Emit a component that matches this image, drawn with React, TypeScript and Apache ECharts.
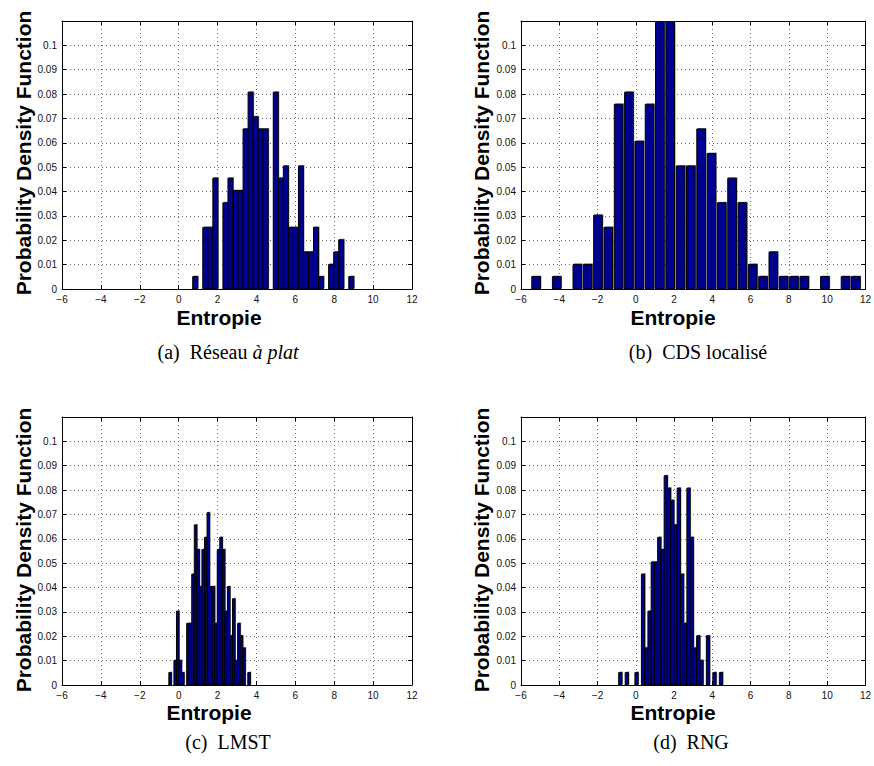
import React, { useEffect, useRef } from "react";
import * as echarts from "echarts";

// Histograms of the entropy, one per topology (32 bins each, relative frequency)
const flatBinStart = 0.852;
const flatBinWidth = 0.2589;
const flatPdf = [
  0.0051, 0, 0.0253, 0.0253, 0.0455, 0, 0.0354, 0.0455, 0.0404, 0.0404,
  0.0657, 0.0808, 0.0707, 0.0657, 0.0657, 0, 0.0808, 0.0455, 0.0505, 0.0253,
  0.0253, 0.0505, 0.0152, 0.0152, 0.0253, 0.0051, 0, 0.0101, 0.0152, 0.0202,
  0, 0.0051,
];

const cdsBinStart = -5.21;
const cdsBinWidth = 0.539;
const cdsPdf = [
  0.0051, 0, 0.0051, 0, 0.0101, 0.0101, 0.0303, 0.0253, 0.0758, 0.0808,
  0.0606, 0.0758, 0.1111, 0.1111, 0.0505, 0.0505, 0.0657, 0.0556, 0.0354, 0.0455,
  0.0354, 0.0101, 0.0051, 0.0152, 0.0051, 0.0051, 0.0051, 0, 0.0051, 0,
  0.0051, 0.0051,
];

const lmstBinStart = -0.44;
const lmstBinWidth = 0.131;
const lmstPdf = [
  0.0051, 0, 0.0101, 0.0303, 0.0101, 0.0051, 0, 0.0253, 0.0253, 0.0455,
  0.0657, 0.0556, 0.0404, 0.0556, 0.0606, 0.0707, 0.0404, 0.0404, 0.0253, 0.0556,
  0.0606, 0.0556, 0.0303, 0.0404, 0.0202, 0.0354, 0.0101, 0.0253, 0.0202, 0.0152,
  0, 0.0051,
];

const rngBinStart = -0.81;
const rngBinWidth = 0.1697;
const rngPdf = [
  0.0051, 0, 0.0051, 0, 0, 0.0051, 0, 0.0455, 0.0152, 0.0303,
  0.0505, 0.0505, 0.0606, 0.0556, 0.0859, 0.0808, 0.0758, 0.0657, 0.0808, 0.0455,
  0.0253, 0.0808, 0.0606, 0.0152, 0.0202, 0.0101, 0, 0.0202, 0, 0.0051,
  0, 0.0051,
];

const xTicks = { min: -6, max: 12, interval: 2 };
const yTicks = { min: 0, max: 0.11, interval: 0.01 };

const xLabel = "Entropie";
const yLabel = "Probability Density Function";
const captions = [
  "(a)  Réseau {it|à plat}",
  "(b)  CDS localisé",
  "(c)  LMST",
  "(d)  RNG",
];

const SANS = '"Liberation Sans", Arial, Helvetica, sans-serif';
const SERIF = '"Liberation Serif", "Times New Roman", Times, serif';
const BAR_FILL = "#00008F";

type Panel = {
  start: number;
  width: number;
  pdf: number[];
  barRatio: number;
  grid: { left: number; top: number; width: number; height: number };
  xNameX: number;
  xNameY: number;
  yNameX: number;
  yNameY: number;
  capX: number;
  capY: number;
};

const panels: Panel[] = [
  {
    start: flatBinStart, width: flatBinWidth, pdf: flatPdf, barRatio: 1,
    grid: { left: 62, top: 21, width: 350, height: 268 },
    xNameX: 219, xNameY: 317, yNameX: 23, yNameY: 153, capX: 228, capY: 352,
  },
  {
    start: cdsBinStart, width: cdsBinWidth, pdf: cdsPdf, barRatio: 0.84,
    grid: { left: 521, top: 21, width: 349, height: 268 },
    xNameX: 673, xNameY: 317, yNameX: 481, yNameY: 153, capX: 698, capY: 352,
  },
  {
    start: lmstBinStart, width: lmstBinWidth, pdf: lmstPdf, barRatio: 1,
    grid: { left: 62, top: 417, width: 350, height: 268 },
    xNameX: 209, xNameY: 712, yNameX: 23, yNameY: 550, capX: 228, capY: 742,
  },
  {
    start: rngBinStart, width: rngBinWidth, pdf: rngPdf, barRatio: 1,
    grid: { left: 521, top: 417, width: 349, height: 268 },
    xNameX: 673, xNameY: 712, yNameX: 481, yNameY: 550, capX: 691, capY: 742,
  },
];

const fmtX = (v: number) => (v < 0 ? "\u2212" + String(-v) : String(v));
const fmtY = (v: number) => (v > 0.105 ? "" : String(+v.toFixed(2)));

function buildOption() {
  const grid: any[] = [];
  const xAxis: any[] = [];
  const yAxis: any[] = [];
  const series: any[] = [];
  const graphic: any[] = [];

  const tick = { show: true, inside: true, length: 4, lineStyle: { color: "#000", width: 1 } };
  const line = { show: true, lineStyle: { color: "#000", width: 1 } };
  const dotted = { show: true, lineStyle: { color: "#666", width: 1, type: [1, 3] } };
  const labelStyle = { color: "#111", fontFamily: SANS, fontSize: 10 };

  panels.forEach((p, g) => {
    grid.push({ ...p.grid, containLabel: false });
    xAxis.push({
      type: "value", gridIndex: g, position: "bottom", ...xTicks,
      axisLine: { ...line, onZero: false }, axisTick: tick, splitLine: dotted,
      axisLabel: { ...labelStyle, margin: 5, formatter: fmtX, showMinLabel: true, showMaxLabel: true },
    });
    xAxis.push({
      type: "value", gridIndex: g, position: "top", ...xTicks,
      axisLine: { ...line, onZero: false }, axisTick: tick, splitLine: { show: false },
      axisLabel: { show: false },
    });
    yAxis.push({
      type: "value", gridIndex: g, position: "left", ...yTicks,
      axisLine: { ...line, onZero: false }, axisTick: tick, splitLine: dotted,
      axisLabel: { ...labelStyle, margin: 5, formatter: fmtY, showMaxLabel: true },
    });
    yAxis.push({
      type: "value", gridIndex: g, position: "right", ...yTicks,
      axisLine: { ...line, onZero: false }, axisTick: tick, splitLine: { show: false },
      axisLabel: { show: false },
    });

    const half = (p.width * p.barRatio) / 2;
    series.push({
      type: "custom",
      xAxisIndex: 2 * g,
      yAxisIndex: 2 * g,
      clip: true,
      encode: { x: 0, y: 1 },
      data: p.pdf.map((v, i) => [p.start + i * p.width, v]),
      renderItem: (_params: any, api: any) => {
        const cx = api.value(0);
        const v = api.value(1);
        if (!v) return null;
        const a = api.coord([cx - half, v]);
        const b = api.coord([cx + half, 0]);
        const shape = { x: a[0], y: a[1], width: b[0] - a[0], height: b[1] - a[1] };
        return {
          type: "group",
          children: [
            {
              type: "rect",
              shape: { ...shape, x: shape.x + 1, y: shape.y - 1 },
              style: { fill: "#8c8c8c" },
            },
            {
              type: "rect",
              shape,
              style: { fill: BAR_FILL, stroke: "#000", lineWidth: 1 },
            },
          ],
        };
      },
    });

    graphic.push({
      type: "text",
      x: p.xNameX, y: p.xNameY,
      style: {
        text: xLabel, fontFamily: SANS, fontSize: 21, fontWeight: "bold",
        fill: "#000", align: "center", verticalAlign: "middle",
      },
    });
    graphic.push({
      type: "text",
      x: p.yNameX, y: p.yNameY, rotation: Math.PI / 2,
      style: {
        text: yLabel, fontFamily: SANS, fontSize: 21, fontWeight: "bold",
        fill: "#000", align: "center", verticalAlign: "middle",
      },
    });
    graphic.push({
      type: "text",
      x: p.capX, y: p.capY,
      style: {
        text: captions[g], fontFamily: SERIF, fontSize: 20, fill: "#000",
        align: "center", verticalAlign: "middle",
        rich: { it: { fontFamily: SERIF, fontSize: 20, fontStyle: "italic", fill: "#000" } },
      },
    });
  });

  return {
    animation: false,
    backgroundColor: "#fff",
    grid, xAxis, yAxis, series, graphic,
  };
}

export default function App() {
  const ref = useRef<HTMLDivElement>(null);
  useEffect(() => {
    if (!ref.current) return;
    const chart = echarts.init(ref.current, null, { renderer: "svg", width: 874, height: 766 });
    chart.setOption(buildOption() as any);
    return () => chart.dispose();
  }, []);
  return (
    <div
      ref={ref}
      style={{ position: "absolute", left: 0, top: 0, width: 874, height: 766, background: "#fff" }}
    />
  );
}
